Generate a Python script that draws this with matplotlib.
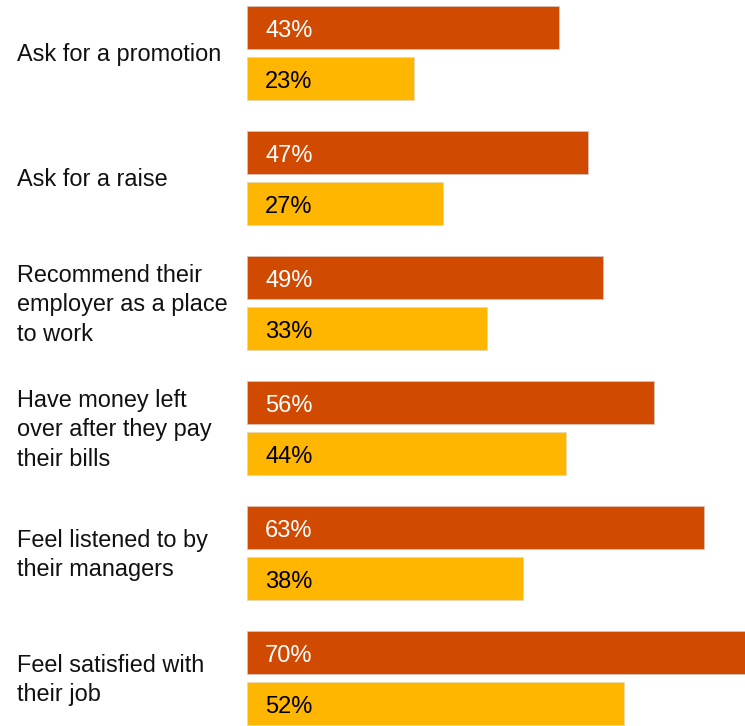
import matplotlib
matplotlib.use('Agg')
import matplotlib.pyplot as plt
import matplotlib.transforms as mtransforms

plt.rcParams['font.family'] = ['Liberation Sans', 'DejaVu Sans']

labels = [
    'Ask for a promotion',
    'Ask for a raise',
    'Recommend their\nemployer as a place\nto work',
    'Have money left\nover after they pay\ntheir bills',
    'Feel listened to by\ntheir managers',
    'Feel satisfied with\ntheir job',
]
top_vals = [43, 47, 49, 56, 63, 70]
bottom_vals = [23, 27, 33, 44, 38, 52]

orange = '#D04A02'
yellow = '#FFB600'

fig = plt.figure(figsize=(7.45, 7.26), dpi=100)
ax = fig.add_axes([247 / 745, 0, 1 - 247 / 745, 1])

off = 0.204
h = 0.344
idx = range(len(labels))
ypos_top = [i - off for i in idx]
ypos_bot = [i + off for i in idx]

ax.barh(ypos_top, top_vals, height=h, color=orange, edgecolor='#d9c2b5', linewidth=0.6)
ax.barh(ypos_bot, bottom_vals, height=h, color=yellow, edgecolor='#e8d8b0', linewidth=0.6)

ax.set_xlim(0, 68.6)
ax.set_ylim(5.384, -0.424)
ax.axis('off')

# percentage labels inside the bars
for y, v in zip(ypos_top, top_vals):
    ax.annotate(f'{v}%', (0, y), xytext=(13, -2.2), textcoords='offset points',
                va='center', ha='left', fontsize=17, color='white')
for y, v in zip(ypos_bot, bottom_vals):
    ax.annotate(f'{v}%', (0, y), xytext=(13, -2.2), textcoords='offset points',
                va='center', ha='left', fontsize=17, color='black')

# category names on the left margin
trans = mtransforms.blended_transform_factory(fig.transFigure, ax.transData)
for i, lab in enumerate(labels):
    ax.annotate(lab, (17 / 745, i), xycoords=trans, xytext=(0, -1.4),
                textcoords='offset points', va='center', ha='left',
                fontsize=16.9, color='#111111', linespacing=1.34,
                annotation_clip=False)

fig.savefig('out.png', dpi=100)
